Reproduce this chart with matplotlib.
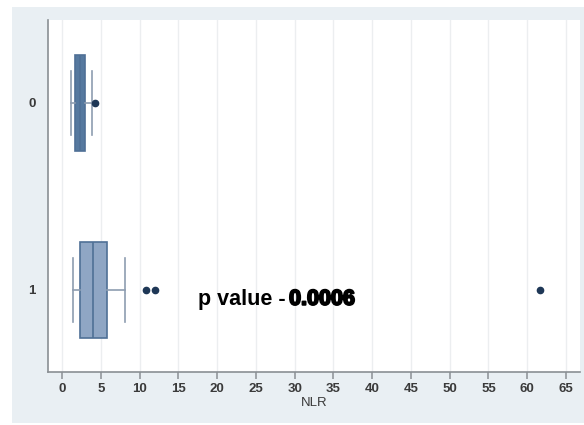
import matplotlib
matplotlib.use("Agg")
import matplotlib.pyplot as plt
import matplotlib.patheffects as pe
from matplotlib.patches import Rectangle

# Box summaries of NLR by group (read as quartiles / whisker ends / outliers)
groups = ["0", "1"]
q1 = [1.72, 2.32]
medians = [2.35, 4.04]
q3 = [2.93, 5.77]
whisker_lo = [1.16, 1.38]
whisker_hi = [3.87, 8.13]
outliers = [[4.3], [10.84, 12.0, 61.7]]
x_ticks = list(range(0, 70, 5))
p_label = "p value - "
p_value = "0.0006"

panel_bg = "#e9eff3"
box_fills = ["#56799f", "#8fa6c4"]
box_edge = "#4f7096"
whisker_col = "#8e9db0"
dot_col = "#1e3756"

fig = plt.figure(figsize=(5.84, 4.25), dpi=100)
fig.patch.set_facecolor("white")
fig.add_artist(Rectangle((12 / 584, 2 / 425), 572 / 584, 416 / 425,
                         transform=fig.transFigure, facecolor=panel_bg,
                         edgecolor="none", zorder=-10))

ax = fig.add_axes([48 / 584, 1 - 372 / 425, 532 / 584, 352 / 425])
ax.set_facecolor("white")

stats = []
for i, g in enumerate(groups):
    stats.append(dict(label=g, q1=q1[i], med=medians[i], q3=q3[i],
                      whislo=whisker_lo[i], whishi=whisker_hi[i],
                      fliers=outliers[i]))

bp = ax.bxp(stats, positions=[0, 1], vert=False, widths=0.51,
            capwidths=0.34, patch_artist=True, manage_ticks=False,
            boxprops=dict(edgecolor=box_edge, linewidth=1.2),
            medianprops=dict(color=box_edge, linewidth=1.2),
            whiskerprops=dict(color=whisker_col, linewidth=1.2),
            capprops=dict(color=whisker_col, linewidth=1.2),
            flierprops=dict(marker="o", markerfacecolor=dot_col,
                            markeredgecolor=dot_col, markersize=4.5))
for patch, fc in zip(bp["boxes"], box_fills):
    patch.set_facecolor(fc)

ax.set_xlim(-1.8, 66.8)
ax.set_ylim(1.439, -0.444)
ax.set_xticks(x_ticks)
ax.set_xticklabels([str(t) for t in x_ticks])
ax.set_yticks([0, 1])
ax.set_yticklabels(groups)
ax.grid(axis="x", color="#eceef0", linewidth=1.0)
ax.set_axisbelow(True)

for s in ["top", "right"]:
    ax.spines[s].set_visible(False)
for s in ["left", "bottom"]:
    ax.spines[s].set_color("#8a8f94")
    ax.spines[s].set_linewidth(1.2)

ax.tick_params(axis="x", length=5, width=1.1, color="#8a8f94", pad=3,
               labelsize=9.5, labelcolor="#3a3a3a")
ax.tick_params(axis="y", length=0, pad=9, labelsize=9.5, labelcolor="#3a3a3a")
for lab in ax.get_xticklabels() + ax.get_yticklabels():
    lab.set_fontfamily("Liberation Sans")
    lab.set_fontweight("bold")

ax.set_xlabel("NLR", fontsize=9.5, color="#3a3a3a", family="Liberation Sans",
              labelpad=1)

t1 = ax.text(17.6, 1.05, p_label, fontsize=15.5, fontweight="bold",
             family="Liberation Sans", color="black", va="center", ha="left")
fig.canvas.draw()
bb = t1.get_window_extent()
x_end = ax.transData.inverted().transform((bb.x1 - 3, bb.y0))[0]
ax.text(x_end, 1.05, p_value, fontsize=15.5, fontweight="bold",
        family="Liberation Sans", color="black", va="center", ha="left",
        path_effects=[pe.withStroke(linewidth=1.4, foreground="black")])

fig.savefig("out.png", dpi=100, facecolor=fig.get_facecolor())
